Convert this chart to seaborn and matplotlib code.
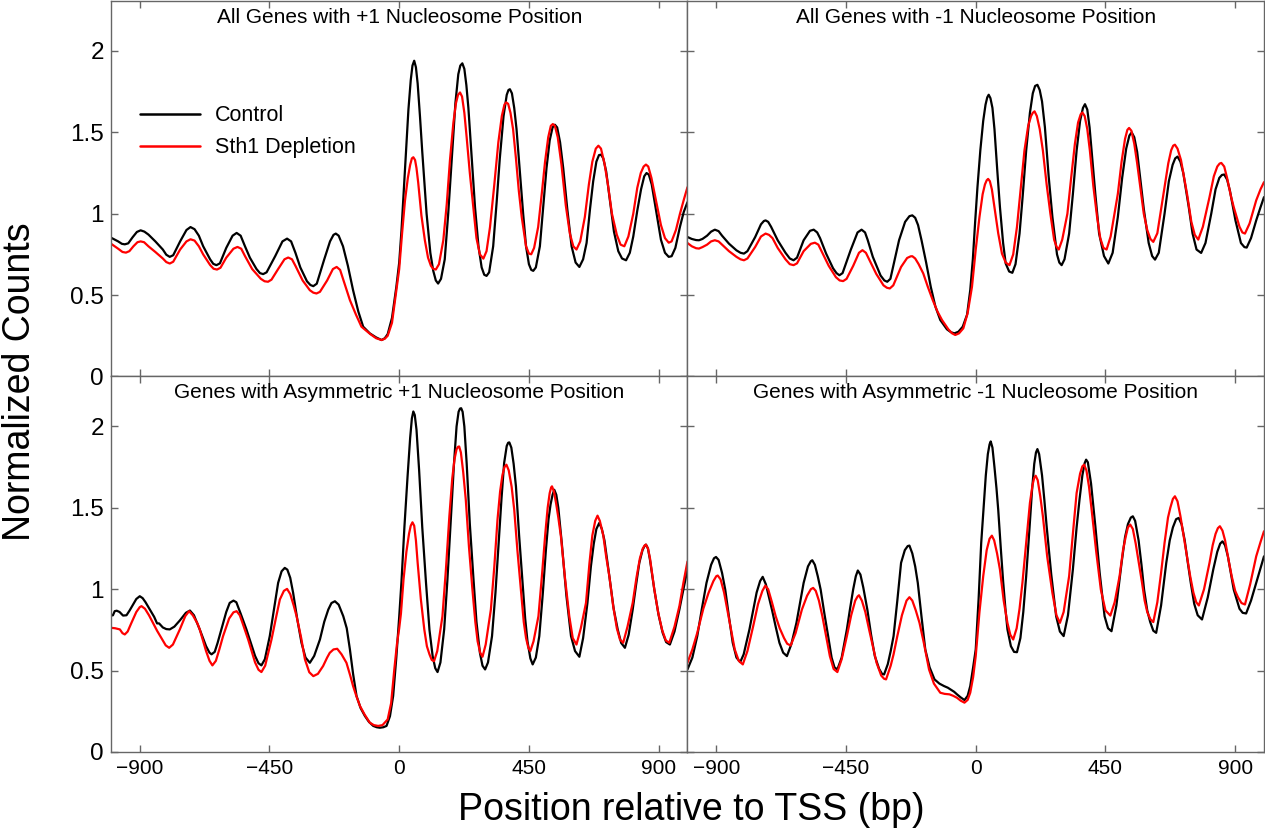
"""
Nucleosome occupancy around the TSS - Control vs Sth1 depletion
"""

import matplotlib
matplotlib.use("Agg")
import pandas as pd
import matplotlib.pyplot as plt
import seaborn as sns

# (position bp, normalized counts)

# ---- All genes, +1 nucleosome position ----
all_p1_control = [
    (-1000, 0.853), (-975, 0.83), (-962, 0.815), (-952, 0.812), (-940, 0.818), (-925, 0.855), (-910, 0.888),
    (-897, 0.898), (-884, 0.89), (-870, 0.872), (-846, 0.83), (-820, 0.78), (-808, 0.748), (-796, 0.735),
    (-784, 0.745), (-760, 0.83), (-738, 0.9), (-724, 0.918), (-710, 0.905), (-695, 0.865), (-680, 0.80),
    (-656, 0.72), (-645, 0.692), (-634, 0.684), (-622, 0.695), (-600, 0.79), (-578, 0.865), (-564, 0.882),
    (-550, 0.865), (-535, 0.80), (-518, 0.73), (-495, 0.66), (-483, 0.635), (-472, 0.629), (-460, 0.64),
    (-430, 0.74), (-405, 0.83), (-389, 0.847), (-375, 0.83), (-360, 0.76), (-343, 0.67), (-320, 0.585),
    (-308, 0.562), (-298, 0.555), (-286, 0.57), (-260, 0.72), (-240, 0.83), (-228, 0.87), (-220, 0.878),
    (-210, 0.865), (-195, 0.80), (-178, 0.68), (-160, 0.53), (-142, 0.40), (-125, 0.306), (-102, 0.265),
    (-80, 0.24), (-61, 0.224), (-50, 0.235), (-40, 0.26), (-25, 0.36), (-10, 0.55), (0, 0.70), (8, 0.90),
    (16, 1.15), (24, 1.40), (32, 1.64), (40, 1.82), (46, 1.91), (52, 1.94), (58, 1.90), (64, 1.80),
    (72, 1.60), (80, 1.38), (95, 1.0), (108, 0.76), (118, 0.65), (127, 0.59), (135, 0.571), (145, 0.60),
    (158, 0.72), (170, 1.0), (182, 1.33), (195, 1.68), (205, 1.857), (212, 1.91), (219, 1.924), (226, 1.89),
    (233, 1.79), (240, 1.65), (252, 1.33), (263, 1.04), (275, 0.80), (286, 0.67), (295, 0.625), (303, 0.618),
    (312, 0.64), (326, 0.80), (338, 1.07), (349, 1.34), (362, 1.60), (373, 1.73), (379, 1.76), (384, 1.765),
    (391, 1.74), (399, 1.65), (407, 1.52), (418, 1.27), (430, 1.0), (440, 0.80), (450, 0.69), (458, 0.655),
    (465, 0.649), (474, 0.67), (488, 0.80), (500, 1.05), (511, 1.28), (522, 1.45), (532, 1.53), (540, 1.547),
    (548, 1.53), (558, 1.44), (569, 1.28), (583, 1.03), (598, 0.80), (612, 0.70), (625, 0.673), (638, 0.72),
    (650, 0.82), (662, 1.03), (673, 1.20), (684, 1.32), (693, 1.36), (700, 1.363), (708, 1.34), (718, 1.26),
    (731, 1.08), (745, 0.89), (760, 0.77), (773, 0.725), (787, 0.714), (800, 0.76), (812, 0.86), (826, 1.02),
    (839, 1.15), (850, 1.23), (858, 1.25), (866, 1.24), (876, 1.18), (893, 1.0), (908, 0.84), (922, 0.76),
    (935, 0.735), (945, 0.739), (958, 0.79), (974, 0.92), (987, 1.01), (1000, 1.071),
]
all_p1_sth1 = [
    (-1000, 0.816), (-975, 0.785), (-960, 0.765), (-948, 0.761), (-936, 0.77), (-922, 0.80), (-908, 0.825),
    (-897, 0.83), (-885, 0.825), (-870, 0.80), (-846, 0.765), (-820, 0.725), (-808, 0.703), (-796, 0.694),
    (-784, 0.705), (-760, 0.78), (-738, 0.83), (-724, 0.843), (-710, 0.835), (-695, 0.80), (-680, 0.75),
    (-656, 0.685), (-644, 0.662), (-632, 0.657), (-620, 0.668), (-600, 0.73), (-575, 0.785), (-561, 0.796),
    (-548, 0.785), (-535, 0.74), (-510, 0.66), (-480, 0.60), (-467, 0.585), (-455, 0.582), (-443, 0.595),
    (-420, 0.66), (-398, 0.72), (-385, 0.731), (-372, 0.72), (-360, 0.68), (-335, 0.59), (-310, 0.53),
    (-298, 0.515), (-287, 0.51), (-275, 0.52), (-250, 0.59), (-230, 0.66), (-217, 0.673), (-205, 0.655),
    (-195, 0.60), (-171, 0.469), (-150, 0.38), (-131, 0.306), (-100, 0.26), (-80, 0.235), (-61, 0.224),
    (-50, 0.232), (-40, 0.25), (-25, 0.33), (-10, 0.53), (0, 0.66), (10, 0.88), (20, 1.08), (30, 1.22),
    (38, 1.30), (44, 1.34), (49, 1.347), (55, 1.33), (60, 1.28), (66, 1.19), (77, 0.99), (89, 0.837),
    (100, 0.73), (110, 0.68), (118, 0.662), (127, 0.657), (138, 0.69), (153, 0.837), (165, 1.06), (176, 1.327),
    (188, 1.56), (197, 1.68), (204, 1.73), (211, 1.745), (218, 1.72), (226, 1.62), (234, 1.47), (245, 1.25),
    (257, 1.04), (268, 0.85), (280, 0.75), (292, 0.724), (303, 0.77), (315, 0.918), (330, 1.18), (344, 1.44),
    (356, 1.60), (365, 1.67), (371, 1.684), (378, 1.675), (386, 1.62), (395, 1.52), (405, 1.34), (415, 1.14),
    (425, 0.98), (440, 0.80), (450, 0.755), (458, 0.751), (468, 0.79), (482, 0.918), (495, 1.13), (506, 1.32),
    (517, 1.47), (526, 1.54), (533, 1.551), (540, 1.54), (550, 1.47), (563, 1.30), (578, 1.05), (592, 0.878),
    (604, 0.80), (615, 0.78), (628, 0.83), (644, 0.98), (658, 1.18), (670, 1.32), (682, 1.40), (691, 1.418),
    (700, 1.40), (712, 1.31), (724, 1.18), (738, 1.00), (755, 0.87), (768, 0.81), (781, 0.80), (795, 0.86),
    (812, 1.0), (826, 1.16), (838, 1.25), (848, 1.29), (856, 1.302), (864, 1.29), (875, 1.22), (893, 1.061),
    (908, 0.93), (922, 0.85), (935, 0.822), (945, 0.83), (960, 0.90), (974, 1.0), (988, 1.09), (1000, 1.163),
]

# ---- All genes, -1 nucleosome position ----
all_m1_control = [
    (-1000, 0.857), (-985, 0.845), (-970, 0.838), (-960, 0.837), (-948, 0.845), (-932, 0.865), (-918, 0.89),
    (-905, 0.902), (-892, 0.893), (-880, 0.865), (-856, 0.816), (-830, 0.775), (-816, 0.76), (-804, 0.755),
    (-792, 0.77), (-765, 0.857), (-745, 0.935), (-735, 0.955), (-729, 0.959), (-720, 0.95), (-710, 0.92),
    (-687, 0.837), (-660, 0.76), (-645, 0.725), (-632, 0.714), (-620, 0.73), (-597, 0.837), (-575, 0.895),
    (-562, 0.902), (-550, 0.885), (-540, 0.85), (-519, 0.755), (-495, 0.665), (-483, 0.635), (-473, 0.622),
    (-462, 0.635), (-434, 0.776), (-410, 0.885), (-396, 0.902), (-384, 0.885), (-375, 0.84), (-357, 0.735),
    (-330, 0.62), (-317, 0.59), (-307, 0.582), (-296, 0.6), (-266, 0.837), (-245, 0.95), (-230, 0.985),
    (-220, 0.99), (-210, 0.975), (-200, 0.93), (-188, 0.837), (-172, 0.70), (-156, 0.551), (-140, 0.43),
    (-123, 0.347), (-100, 0.29), (-86, 0.272), (-74, 0.265), (-60, 0.275), (-45, 0.306), (-30, 0.38),
    (-19, 0.531), (-10, 0.72), (-2, 0.95), (6, 1.163), (16, 1.39), (26, 1.571), (34, 1.67), (40, 1.715),
    (45, 1.731), (51, 1.71), (58, 1.65), (65, 1.52), (75, 1.26), (84, 1.041), (95, 0.82), (104, 0.694),
    (116, 0.645), (127, 0.637), (138, 0.69), (152, 0.878), (163, 1.11), (175, 1.388), (188, 1.62), (198, 1.74),
    (206, 1.785), (214, 1.792), (222, 1.76), (230, 1.69), (240, 1.531), (253, 1.23), (266, 0.98), (282, 0.75),
    (290, 0.70), (298, 0.684), (308, 0.72), (324, 0.878), (337, 1.12), (350, 1.388), (362, 1.57), (372, 1.65),
    (379, 1.673), (387, 1.64), (395, 1.53), (402, 1.388), (415, 1.12), (428, 0.878), (445, 0.74), (460, 0.694),
    (475, 0.76), (493, 0.98), (508, 1.22), (522, 1.40), (533, 1.48), (541, 1.5), (550, 1.47), (560, 1.38),
    (570, 1.23), (583, 1.03), (600, 0.82), (612, 0.74), (622, 0.718), (635, 0.76), (655, 1.0), (670, 1.20),
    (683, 1.30), (692, 1.34), (700, 1.351), (710, 1.32), (720, 1.25), (739, 1.041), (752, 0.88), (766, 0.78),
    (782, 0.759), (797, 0.82), (817, 1.0), (832, 1.15), (845, 1.22), (854, 1.238), (862, 1.241), (872, 1.21),
    (882, 1.14), (901, 0.959), (920, 0.82), (932, 0.795), (940, 0.792), (955, 0.85), (973, 0.959), (988, 1.04),
    (1000, 1.102),
]
all_m1_sth1 = [
    (-1000, 0.82), (-985, 0.80), (-970, 0.788), (-960, 0.786), (-948, 0.795), (-932, 0.81), (-918, 0.83),
    (-905, 0.837), (-892, 0.83), (-880, 0.81), (-856, 0.77), (-830, 0.735), (-816, 0.72), (-804, 0.714),
    (-792, 0.725), (-765, 0.796), (-745, 0.86), (-729, 0.878), (-717, 0.87), (-705, 0.85), (-687, 0.79),
    (-660, 0.72), (-645, 0.69), (-632, 0.684), (-620, 0.695), (-597, 0.77), (-572, 0.815), (-558, 0.822),
    (-546, 0.81), (-535, 0.77), (-510, 0.68), (-485, 0.61), (-472, 0.59), (-460, 0.586), (-448, 0.60),
    (-425, 0.68), (-405, 0.76), (-393, 0.776), (-381, 0.76), (-370, 0.72), (-345, 0.63), (-320, 0.56),
    (-308, 0.545), (-298, 0.541), (-286, 0.56), (-259, 0.673), (-238, 0.728), (-226, 0.738), (-220, 0.739),
    (-210, 0.725), (-198, 0.69), (-182, 0.633), (-166, 0.55), (-149, 0.469), (-133, 0.40), (-117, 0.347),
    (-95, 0.29), (-82, 0.265), (-71, 0.255), (-58, 0.265), (-43, 0.296), (-28, 0.39), (-13, 0.551), (0, 0.78),
    (13, 0.98), (24, 1.12), (32, 1.18), (38, 1.205), (43, 1.214), (49, 1.20), (56, 1.15), (65, 1.041),
    (78, 0.88), (91, 0.755), (104, 0.70), (117, 0.684), (130, 0.75), (143, 0.918), (156, 1.15), (169, 1.388),
    (182, 1.54), (192, 1.60), (198, 1.62), (204, 1.629), (212, 1.60), (222, 1.52), (233, 1.388), (246, 1.18),
    (259, 1.0), (272, 0.84), (281, 0.795), (288, 0.78), (300, 0.84), (318, 1.0), (331, 1.22), (344, 1.429),
    (355, 1.56), (364, 1.61), (370, 1.622), (378, 1.60), (387, 1.52), (396, 1.388), (408, 1.17), (421, 0.98),
    (432, 0.85), (443, 0.79), (454, 0.78), (468, 0.86), (493, 1.122), (506, 1.32), (518, 1.46), (526, 1.515),
    (532, 1.527), (540, 1.51), (550, 1.43), (560, 1.31), (571, 1.163), (583, 1.0), (595, 0.90), (606, 0.845),
    (616, 0.827), (630, 0.88), (655, 1.163), (668, 1.31), (678, 1.39), (685, 1.418), (691, 1.424), (700, 1.40),
    (712, 1.33), (733, 1.122), (748, 0.95), (760, 0.87), (772, 0.841), (788, 0.92), (811, 1.102), (826, 1.23),
    (838, 1.29), (846, 1.308), (852, 1.312), (862, 1.29), (872, 1.22), (885, 1.11), (895, 1.041), (915, 0.92),
    (925, 0.885), (934, 0.878), (950, 0.94), (973, 1.082), (988, 1.15), (1000, 1.194),
]

# ---- Genes with asymmetric +1 nucleosome position ----
asym_p1_control = [
    (-1000, 0.838), (-993, 0.84), (-987, 0.865), (-980, 0.868), (-970, 0.86), (-958, 0.838), (-946, 0.84),
    (-935, 0.87), (-925, 0.90), (-912, 0.94), (-900, 0.957), (-890, 0.945), (-880, 0.92), (-865, 0.875),
    (-850, 0.83), (-840, 0.79), (-833, 0.79), (-820, 0.765), (-808, 0.755), (-796, 0.753), (-780, 0.77),
    (-761, 0.808), (-740, 0.855), (-726, 0.869), (-712, 0.84), (-692, 0.753), (-670, 0.65), (-658, 0.61),
    (-651, 0.60), (-640, 0.615), (-630, 0.67), (-617, 0.753), (-600, 0.86), (-588, 0.916), (-575, 0.93),
    (-565, 0.92), (-550, 0.85), (-530, 0.753), (-500, 0.59), (-488, 0.545), (-478, 0.532), (-466, 0.57),
    (-449, 0.712), (-435, 0.87), (-420, 1.039), (-408, 1.11), (-397, 1.131), (-388, 1.12), (-378, 1.07),
    (-368, 0.978), (-354, 0.82), (-339, 0.671), (-325, 0.58), (-310, 0.548), (-295, 0.59), (-275, 0.691),
    (-260, 0.80), (-246, 0.875), (-235, 0.915), (-223, 0.926), (-210, 0.905), (-194, 0.834), (-182, 0.76),
    (-171, 0.63), (-160, 0.48), (-148, 0.344), (-134, 0.27), (-119, 0.221), (-105, 0.185), (-90, 0.16),
    (-78, 0.152), (-67, 0.149), (-55, 0.152), (-44, 0.16), (-32, 0.22), (-21, 0.344), (-10, 0.58), (0, 0.83),
    (8, 1.05), (18, 1.38), (29, 1.693), (38, 1.93), (44, 2.05), (49, 2.092), (54, 2.07), (60, 1.98),
    (69, 1.734), (80, 1.38), (93, 1.039), (105, 0.75), (116, 0.589), (125, 0.515), (133, 0.491), (143, 0.55),
    (156, 0.753), (167, 1.05), (179, 1.427), (190, 1.77), (199, 2.0), (206, 2.09), (211, 2.11), (215, 2.112),
    (220, 2.09), (226, 2.0), (234, 1.775), (245, 1.40), (257, 1.08), (268, 0.80), (280, 0.609), (289, 0.53),
    (298, 0.507), (308, 0.55), (322, 0.712), (334, 0.98), (345, 1.284), (355, 1.56), (364, 1.775), (373, 1.88),
    (378, 1.90), (382, 1.902), (389, 1.87), (397, 1.77), (405, 1.632), (416, 1.33), (428, 1.039), (437, 0.82),
    (445, 0.68), (455, 0.575), (463, 0.538), (474, 0.58), (486, 0.712), (498, 0.97), (509, 1.243), (518, 1.43),
    (525, 1.52), (532, 1.58), (538, 1.611), (545, 1.58), (552, 1.50), (564, 1.284), (580, 0.96), (596, 0.712),
    (610, 0.62), (625, 0.585), (638, 0.70), (653, 0.916), (665, 1.14), (675, 1.28), (684, 1.37), (694, 1.407),
    (703, 1.37), (712, 1.30), (729, 1.08), (744, 0.88), (758, 0.753), (770, 0.67), (783, 0.64), (796, 0.72),
    (810, 0.875), (822, 1.03), (833, 1.162), (844, 1.24), (851, 1.265), (856, 1.274), (863, 1.25), (870, 1.18),
    (885, 0.998), (900, 0.84), (914, 0.732), (926, 0.675), (939, 0.66), (955, 0.74), (972, 0.875), (986, 1.0),
    (1000, 1.12),
]
asym_p1_sth1 = [
    (-1000, 0.763), (-985, 0.76), (-969, 0.753), (-960, 0.73), (-952, 0.722), (-942, 0.74), (-929, 0.793),
    (-912, 0.86), (-900, 0.89), (-894, 0.896), (-882, 0.88), (-868, 0.84), (-854, 0.793), (-840, 0.745),
    (-825, 0.70), (-810, 0.655), (-798, 0.64), (-785, 0.66), (-761, 0.753), (-742, 0.835), (-729, 0.865),
    (-716, 0.84), (-700, 0.79), (-692, 0.753), (-670, 0.62), (-658, 0.56), (-648, 0.532), (-636, 0.56),
    (-624, 0.63), (-611, 0.712), (-590, 0.82), (-575, 0.858), (-564, 0.865), (-553, 0.84), (-545, 0.80),
    (-524, 0.691), (-500, 0.55), (-488, 0.505), (-478, 0.491), (-465, 0.53), (-443, 0.691), (-428, 0.82),
    (-414, 0.937), (-400, 0.99), (-389, 1.002), (-378, 0.97), (-366, 0.90), (-356, 0.834), (-340, 0.70),
    (-327, 0.569), (-312, 0.49), (-298, 0.466), (-282, 0.48), (-264, 0.528), (-250, 0.58), (-241, 0.609),
    (-228, 0.63), (-215, 0.634), (-200, 0.60), (-183, 0.548), (-170, 0.47), (-160, 0.405), (-148, 0.34),
    (-136, 0.282), (-120, 0.23), (-102, 0.18), (-88, 0.165), (-73, 0.16), (-58, 0.165), (-40, 0.2),
    (-28, 0.30), (-17, 0.507), (-8, 0.66), (0, 0.76), (6, 0.85), (15, 1.06), (25, 1.23), (34, 1.34),
    (40, 1.39), (46, 1.411), (52, 1.39), (58, 1.30), (64, 1.162), (75, 0.94), (87, 0.753), (96, 0.65),
    (105, 0.60), (113, 0.565), (121, 0.558), (132, 0.62), (150, 0.834), (162, 1.12), (174, 1.448), (184, 1.68),
    (192, 1.80), (199, 1.86), (204, 1.875), (208, 1.877), (214, 1.84), (222, 1.72), (231, 1.55), (242, 1.26),
    (254, 0.998), (264, 0.80), (272, 0.68), (281, 0.61), (289, 0.585), (300, 0.66), (318, 0.875), (330, 1.14),
    (341, 1.427), (350, 1.60), (358, 1.70), (365, 1.75), (372, 1.765), (380, 1.73), (390, 1.63), (399, 1.489),
    (410, 1.24), (422, 0.998), (432, 0.80), (440, 0.70), (448, 0.64), (455, 0.62), (466, 0.68), (483, 0.834),
    (495, 1.08), (507, 1.346), (515, 1.50), (522, 1.59), (527, 1.625), (530, 1.632), (537, 1.60), (545, 1.52),
    (552, 1.44), (561, 1.325), (575, 1.07), (590, 0.834), (602, 0.70), (615, 0.66), (630, 0.76), (648, 0.916),
    (660, 1.16), (670, 1.33), (680, 1.42), (688, 1.452), (696, 1.42), (708, 1.33), (718, 1.20), (729, 1.08),
    (742, 0.90), (755, 0.76), (766, 0.69), (777, 0.671), (792, 0.77), (810, 0.916), (823, 1.07), (835, 1.19),
    (845, 1.25), (852, 1.27), (856, 1.274), (863, 1.25), (870, 1.19), (885, 0.998), (898, 0.86), (912, 0.75),
    (925, 0.685), (937, 0.671), (955, 0.77), (972, 0.896), (986, 1.04), (1000, 1.17),
]

# ---- Genes with asymmetric -1 nucleosome position ----
asym_m1_control = [
    (-1000, 0.507), (-983, 0.58), (-966, 0.712), (-950, 0.88), (-934, 1.039), (-918, 1.15), (-908, 1.19),
    (-901, 1.198), (-892, 1.18), (-880, 1.10), (-869, 0.998), (-856, 0.83), (-843, 0.671), (-830, 0.58),
    (-817, 0.552), (-805, 0.60), (-785, 0.753), (-772, 0.87), (-760, 0.98), (-748, 1.05), (-739, 1.076),
    (-728, 1.03), (-717, 0.95), (-707, 0.875), (-694, 0.77), (-681, 0.671), (-668, 0.61), (-655, 0.589),
    (-640, 0.66), (-622, 0.793), (-610, 0.91), (-597, 1.039), (-582, 1.14), (-572, 1.172), (-567, 1.178),
    (-558, 1.15), (-548, 1.08), (-538, 0.998), (-525, 0.85), (-512, 0.712), (-500, 0.58), (-490, 0.52),
    (-480, 0.507), (-465, 0.58), (-447, 0.753), (-436, 0.88), (-425, 1.0), (-416, 1.08), (-409, 1.115),
    (-400, 1.09), (-390, 1.01), (-376, 0.875), (-363, 0.72), (-350, 0.589), (-335, 0.51), (-325, 0.48),
    (-318, 0.476), (-305, 0.54), (-295, 0.62), (-285, 0.712), (-272, 0.93), (-259, 1.162), (-246, 1.24),
    (-236, 1.265), (-230, 1.268), (-220, 1.22), (-210, 1.14), (-201, 1.039), (-188, 0.83), (-175, 0.63),
    (-160, 0.52), (-143, 0.446), (-126, 0.42), (-110, 0.405), (-97, 0.395), (-84, 0.38), (-75, 0.37),
    (-65, 0.354), (-52, 0.335), (-39, 0.319), (-28, 0.345), (-19, 0.405), (-9, 0.52), (0, 0.63), (10, 0.94),
    (19, 1.284), (28, 1.52), (35, 1.70), (42, 1.83), (48, 1.89), (52, 1.908), (58, 1.87), (65, 1.75),
    (72, 1.62), (78, 1.489), (87, 1.25), (95, 1.05), (103, 0.88), (110, 0.753), (122, 0.65), (133, 0.615),
    (143, 0.613), (155, 0.70), (165, 0.86), (175, 1.08), (186, 1.36), (195, 1.60), (203, 1.77), (209, 1.84),
    (214, 1.861), (220, 1.83), (230, 1.70), (238, 1.55), (246, 1.387), (262, 1.09), (279, 0.834), (292, 0.74),
    (305, 0.712), (320, 0.84), (337, 1.121), (350, 1.38), (360, 1.55), (370, 1.70), (378, 1.775), (383, 1.796),
    (389, 1.78), (400, 1.65), (415, 1.387), (430, 1.10), (447, 0.834), (459, 0.76), (471, 0.742), (488, 0.90),
    (506, 1.162), (518, 1.32), (528, 1.40), (538, 1.44), (545, 1.448), (553, 1.42), (565, 1.30), (575, 1.15),
    (584, 0.998), (595, 0.87), (605, 0.80), (616, 0.745), (626, 0.732), (643, 0.90), (661, 1.162), (673, 1.30),
    (684, 1.38), (695, 1.43), (704, 1.438), (714, 1.40), (725, 1.30), (736, 1.16), (746, 1.039), (758, 0.91),
    (770, 0.84), (785, 0.814), (805, 0.95), (824, 1.121), (838, 1.23), (848, 1.28), (856, 1.294), (865, 1.27),
    (875, 1.20), (885, 1.10), (895, 0.998), (915, 0.88), (926, 0.855), (938, 0.851), (955, 0.93), (973, 1.039),
    (988, 1.13), (1000, 1.202),
]
asym_m1_sth1 = [
    (-1000, 0.548), (-983, 0.63), (-966, 0.732), (-945, 0.88), (-927, 0.977), (-910, 1.05), (-900, 1.08),
    (-895, 1.084), (-885, 1.06), (-873, 0.98), (-862, 0.875), (-849, 0.75), (-836, 0.63), (-822, 0.56),
    (-808, 0.538), (-792, 0.62), (-772, 0.773), (-755, 0.91), (-740, 0.99), (-730, 1.022), (-720, 1.00),
    (-707, 0.92), (-694, 0.834), (-680, 0.76), (-665, 0.70), (-654, 0.665), (-642, 0.654), (-625, 0.73),
    (-603, 0.875), (-585, 0.96), (-572, 1.0), (-564, 1.008), (-555, 0.99), (-544, 0.93), (-532, 0.834),
    (-520, 0.72), (-506, 0.589), (-493, 0.51), (-480, 0.491), (-465, 0.57), (-447, 0.712), (-432, 0.84),
    (-418, 0.93), (-410, 0.955), (-405, 0.963), (-395, 0.93), (-383, 0.86), (-370, 0.753), (-357, 0.65),
    (-344, 0.548), (-328, 0.47), (-318, 0.45), (-311, 0.446), (-295, 0.53), (-285, 0.60), (-272, 0.712),
    (-256, 0.84), (-240, 0.93), (-230, 0.951), (-220, 0.93), (-208, 0.87), (-195, 0.793), (-180, 0.67),
    (-162, 0.507), (-145, 0.42), (-123, 0.364), (-108, 0.357), (-91, 0.354), (-78, 0.345), (-65, 0.333),
    (-52, 0.315), (-39, 0.303), (-28, 0.32), (-19, 0.364), (-9, 0.46), (0, 0.589), (13, 0.86), (26, 1.08),
    (38, 1.24), (48, 1.31), (56, 1.329), (64, 1.30), (74, 1.22), (84, 1.121), (97, 0.93), (110, 0.793),
    (120, 0.72), (130, 0.691), (142, 0.76), (152, 0.88), (162, 1.039), (176, 1.30), (188, 1.53), (197, 1.64),
    (203, 1.685), (208, 1.697), (215, 1.67), (224, 1.57), (233, 1.448), (248, 1.20), (266, 0.977), (280, 0.84),
    (292, 0.793), (305, 0.86), (324, 1.08), (337, 1.34), (350, 1.591), (362, 1.71), (370, 1.755), (376, 1.765),
    (384, 1.73), (393, 1.63), (402, 1.489), (418, 1.23), (434, 0.998), (450, 0.87), (467, 0.838), (482, 0.92),
    (499, 1.08), (511, 1.24), (520, 1.32), (528, 1.38), (536, 1.397), (545, 1.37), (555, 1.28), (566, 1.16),
    (577, 1.039), (586, 0.93), (595, 0.86), (606, 0.815), (616, 0.798), (630, 0.92), (643, 1.10), (655, 1.284),
    (667, 1.44), (675, 1.50), (684, 1.555), (691, 1.571), (700, 1.54), (710, 1.45), (721, 1.33), (733, 1.202),
    (744, 1.08), (755, 0.98), (765, 0.92), (774, 0.9), (792, 1.00), (811, 1.162), (822, 1.27), (832, 1.34),
    (840, 1.375), (847, 1.387), (856, 1.36), (865, 1.30), (877, 1.18), (888, 1.08), (900, 0.99), (910, 0.95),
    (922, 0.915), (934, 0.906), (952, 1.03), (973, 1.202), (988, 1.29), (1000, 1.356),
]

panel_titles = ["All Genes with +1 Nucleosome Position",
                "All Genes with -1 Nucleosome Position",
                "Genes with Asymmetric +1 Nucleosome Position",
                "Genes with Asymmetric -1 Nucleosome Position"]
x_ticks = [-900, -450, 0, 450, 900]
y_ticks = [0, 0.5, 1, 1.5, 2]
y_tick_labels = ["0", "0.5", "1", "1.5", "2"]
conditions = ["Control", "Sth1 Depletion"]

panel_series = [
    (all_p1_control, all_p1_sth1),
    (all_m1_control, all_m1_sth1),
    (asym_p1_control, asym_p1_sth1),
    (asym_m1_control, asym_m1_sth1),
]


def to_frame(control, sth1):
    """Long-form table for one panel"""
    parts = []
    for name, pts in zip(conditions, (control, sth1)):
        pos, counts = zip(*pts)
        parts.append(pd.DataFrame({"pos": pos, "counts": counts, "condition": name}))
    return pd.concat(parts, ignore_index=True)


sns.set_style("ticks")
plt.rcParams['font.family'] = ['Liberation Sans', 'DejaVu Sans']
plt.rcParams['text.color'] = 'black'

palette = {"Control": "black", "Sth1 Depletion": "red"}
spine_color = "#666666"

fig, axes = plt.subplots(2, 2, figsize=(12.65, 8.31), dpi=100, sharex=True, sharey=True)
fig.subplots_adjust(left=0.0877, right=0.9992, top=0.9988, bottom=0.0951, wspace=0, hspace=0)

for i, (ax, title, (control, sth1)) in enumerate(zip(axes.flat, panel_titles, panel_series)):
    df = to_frame(control, sth1)
    sns.lineplot(data=df, x="pos", y="counts", hue="condition", hue_order=conditions,
                 palette=palette, estimator=None, sort=False, linewidth=1.6,
                 ax=ax, legend="auto" if i == 0 else False)

    ax.set_xlim(-1000, 1000)
    ax.set_ylim(0, 2.307)
    ax.set_xticks(x_ticks)
    ax.set_yticks(y_ticks)
    ax.set_yticklabels(y_tick_labels)
    ax.set_xlabel("")
    ax.set_ylabel("")
    ax.tick_params(direction="in", length=5, width=1, top=True, right=True,
                   color=spine_color, labelcolor="black")
    ax.tick_params(axis="y", labelsize=17.5, pad=5)
    ax.tick_params(axis="x", labelsize=15, pad=5)
    for sp in ax.spines.values():
        sp.set_color(spine_color)
        sp.set_linewidth(1)
    ax.text(0.5, 0.982, title, transform=ax.transAxes, ha="center", va="top",
            fontsize=15, color="black")

# legend only in first panel, no frame
leg = axes[0, 0].legend(loc="upper left", bbox_to_anchor=(0.05, 0.722), frameon=False, fontsize=15.5,
                        handlelength=2.8, handletextpad=0.7, labelspacing=0.5,
                        borderaxespad=0, borderpad=0, labelcolor="black")
for line in leg.get_lines():
    line.set_linewidth(1.8)

fig.text(0.5466, 0.025, "Position relative to TSS (bp)", ha="center", va="center",
         fontsize=27, color="black")
fig.text(0.016, 0.541, "Normalized Counts", rotation=90, ha="center", va="center",
         fontsize=27, color="black")

fig.savefig("out.png", dpi=100)
